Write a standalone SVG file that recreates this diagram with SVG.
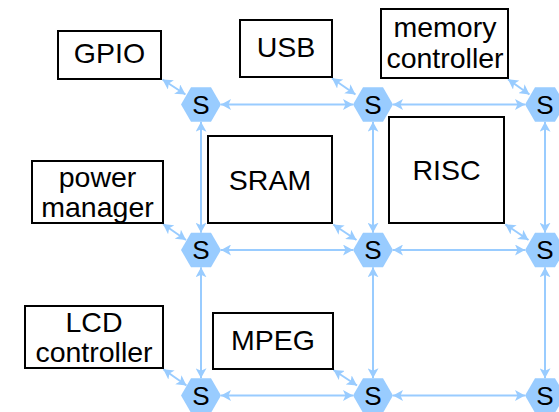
<svg xmlns="http://www.w3.org/2000/svg" xmlns:xlink="http://www.w3.org/1999/xlink" width="559" height="412" viewBox="0 0 559 412">
  <style>
    .box { fill: #ffffff; stroke: #000000; stroke-width: 2; }
    .lbl { font-family: "Liberation Sans", Arial, sans-serif; font-size: 28.5px; fill: #000000; text-anchor: middle; }
    .sw { fill: #99ccff; stroke: none; }
    .swl { font-family: "Liberation Sans", Arial, sans-serif; font-size: 26px; fill: #000000; text-anchor: middle; }
    .link { stroke: #99ccff; stroke-width: 2; fill: none; marker-start: url(#arr); marker-end: url(#arr); }
  </style>
  <defs>
    <marker id="arr" viewBox="0 0 10 11" refX="10" refY="5.5" markerWidth="10" markerHeight="11" markerUnits="userSpaceOnUse" orient="auto-start-reverse">
      <path d="M0,0 L10,5.5 L0,11 L2.5,5.5 Z" fill="#99ccff"/>
    </marker>
    <polygon id="hex" points="-20,0 -10,-17.3 10,-17.3 20,0 10,17.3 -10,17.3"/>
  </defs>

  <!-- connectors -->
  <g id="connectors">
    <!-- horizontal links between switches -->
    <line class="link" x1="221" y1="104.5" x2="353" y2="104.5"/>
    <line class="link" x1="393" y1="104.5" x2="525" y2="104.5"/>
    <line class="link" x1="221" y1="250" x2="353" y2="250"/>
    <line class="link" x1="393" y1="250" x2="525" y2="250"/>
    <line class="link" x1="221" y1="395.5" x2="353" y2="395.5"/>
    <line class="link" x1="393" y1="395.5" x2="525" y2="395.5"/>
    <!-- vertical links between switches -->
    <line class="link" x1="201" y1="121.8" x2="201" y2="232.7"/>
    <line class="link" x1="201" y1="267.3" x2="201" y2="378.2"/>
    <line class="link" x1="373" y1="121.8" x2="373" y2="232.7"/>
    <line class="link" x1="373" y1="267.3" x2="373" y2="378.2"/>
    <line class="link" x1="545" y1="121.8" x2="545" y2="232.7"/>
    <line class="link" x1="545" y1="267.3" x2="545" y2="378.2"/>
    <!-- module to switch links -->
    <line class="link" x1="162.5" y1="79.5" x2="185.5" y2="94.5"/>
    <line class="link" x1="332" y1="78.3" x2="355.5" y2="94.5"/>
    <line class="link" x1="508" y1="79.3" x2="529.5" y2="94.5"/>
    <line class="link" x1="163" y1="224" x2="186" y2="240"/>
    <line class="link" x1="333.3" y1="224.5" x2="356.5" y2="240"/>
    <line class="link" x1="505.3" y1="224.3" x2="528.5" y2="240"/>
    <line class="link" x1="163.3" y1="369.3" x2="186.5" y2="385.5"/>
    <line class="link" x1="333.5" y1="370" x2="357" y2="385.5"/>
  </g>

  <!-- modules -->
  <g id="gpio">
    <rect class="box" x="58" y="31" width="103" height="48"/>
    <text class="lbl" x="109.5" y="63">GPIO</text>
  </g>
  <g id="usb">
    <rect class="box" x="240" y="20" width="92" height="57"/>
    <text class="lbl" x="286" y="57">USB</text>
  </g>
  <g id="memory-controller">
    <rect class="box" x="381" y="9" width="127" height="69"/>
    <text class="lbl" x="445" y="36.5">memory</text>
    <text class="lbl" x="445" y="67.5">controller</text>
  </g>
  <g id="power-manager">
    <rect class="box" x="32" y="161" width="131" height="62"/>
    <text class="lbl" x="97.5" y="186.5">power</text>
    <text class="lbl" x="97.5" y="216.5">manager</text>
  </g>
  <g id="sram">
    <rect class="box" x="208" y="136" width="124" height="87"/>
    <text class="lbl" x="270" y="190">SRAM</text>
  </g>
  <g id="risc">
    <rect class="box" x="389" y="117" width="115" height="106"/>
    <text class="lbl" x="446.5" y="180">RISC</text>
  </g>
  <g id="lcd-controller">
    <rect class="box" x="25" y="306" width="138" height="62"/>
    <text class="lbl" x="94" y="331.7">LCD</text>
    <text class="lbl" x="94" y="361.7">controller</text>
  </g>
  <g id="mpeg">
    <rect class="box" x="213" y="313" width="120" height="56"/>
    <text class="lbl" x="273" y="350">MPEG</text>
  </g>

  <!-- switches -->
  <g id="s11"><use xlink:href="#hex" class="sw" x="201" y="104.5"/><text class="swl" x="201" y="113.8">S</text></g>
  <g id="s12"><use xlink:href="#hex" class="sw" x="373" y="104.5"/><text class="swl" x="373" y="113.8">S</text></g>
  <g id="s13"><use xlink:href="#hex" class="sw" x="545" y="104.5"/><text class="swl" x="545" y="113.8">S</text></g>
  <g id="s21"><use xlink:href="#hex" class="sw" x="201" y="250"/><text class="swl" x="201" y="259.3">S</text></g>
  <g id="s22"><use xlink:href="#hex" class="sw" x="373" y="250"/><text class="swl" x="373" y="259.3">S</text></g>
  <g id="s23"><use xlink:href="#hex" class="sw" x="545" y="250"/><text class="swl" x="545" y="259.3">S</text></g>
  <g id="s31"><use xlink:href="#hex" class="sw" x="201" y="395.5"/><text class="swl" x="201" y="404.8">S</text></g>
  <g id="s32"><use xlink:href="#hex" class="sw" x="373" y="395.5"/><text class="swl" x="373" y="404.8">S</text></g>
  <g id="s33"><use xlink:href="#hex" class="sw" x="545" y="395.5"/><text class="swl" x="545" y="404.8">S</text></g>
</svg>
